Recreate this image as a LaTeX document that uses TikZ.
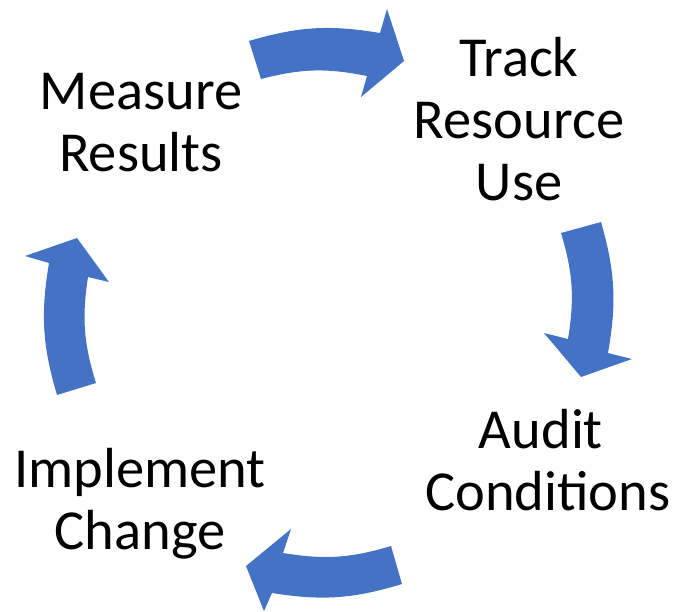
\documentclass[tikz,border=0pt]{standalone}
\usepackage{fontspec}
\setmainfont{Carlito}
\begin{document}
\begin{tikzpicture}[x=1pt,y=-1pt,
  cyclearrow/.style={fill=arrowblue,draw=none},
  steptext/.style={anchor=base,align=center,inner sep=0pt,
    font=\fontsize{56.5}{62}\selectfont}]
\definecolor{arrowblue}{HTML}{4472C4}
\useasboundingbox (0,0) rectangle (679,611);

% step labels (last-line baseline)
\node[steptext] (measure) at (141,171) {Measure\\Results};
\node[steptext] (track) at (519,200) {Track\\Resource\\Use};
\node[steptext] (audit) at (548,510) {Audit\hspace*{0.25em}\\Conditions};
\node[steptext] (implement) at (140,549) {Implement\\Change};

% top arrow: Measure -> Track
\coordinate (a1) at (249,41);  \coordinate (a2) at (380,33);
\coordinate (a3) at (387,9);   \coordinate (a4) at (404,61);
\coordinate (a5) at (361,97);  \coordinate (a6) at (367,76);
\coordinate (a7) at (261,79);
\fill[cyclearrow] (a1) to[bend left=13] (a2) -- (a3) -- (a4) -- (a5) -- (a6)
  to[bend right=13] (a7) -- cycle;

% right arrow: Track -> Audit
\coordinate (b1) at (561,233); \coordinate (b2) at (601,222);
\coordinate (b3) at (608,353); \coordinate (b4) at (632,359);
\coordinate (b5) at (581,377); \coordinate (b6) at (544,333);
\coordinate (b7) at (568,339);
\fill[cyclearrow] (b1) -- (b2) to[bend left=13] (b3) -- (b4) -- (b5) -- (b6)
  -- (b7) to[bend right=13] (b1) -- cycle;

% bottom arrow: Audit -> Implement
\coordinate (c1) at (391,546); \coordinate (c2) at (402,584);
\coordinate (c3) at (272,593); \coordinate (c4) at (264,611);
\coordinate (c5) at (246,566); \coordinate (c6) at (291,529);
\coordinate (c7) at (283,553);
\fill[cyclearrow] (c1) -- (c2) to[bend left=13] (c3) -- (c4) -- (c5) -- (c6)
  -- (c7) to[bend right=13] (c1) -- cycle;

% left arrow: Implement -> Measure
\coordinate (d1) at (57,395);  \coordinate (d2) at (96,383);
\coordinate (d3) at (88,277);  \coordinate (d4) at (109,282);
\coordinate (d5) at (77,238);  \coordinate (d6) at (25,256);
\coordinate (d7) at (49,263);
\fill[cyclearrow] (d1) to[bend left=13] (d7) -- (d6) -- (d5) -- (d4) -- (d3)
  to[bend right=13] (d2) -- cycle;
\end{tikzpicture}
\end{document}
